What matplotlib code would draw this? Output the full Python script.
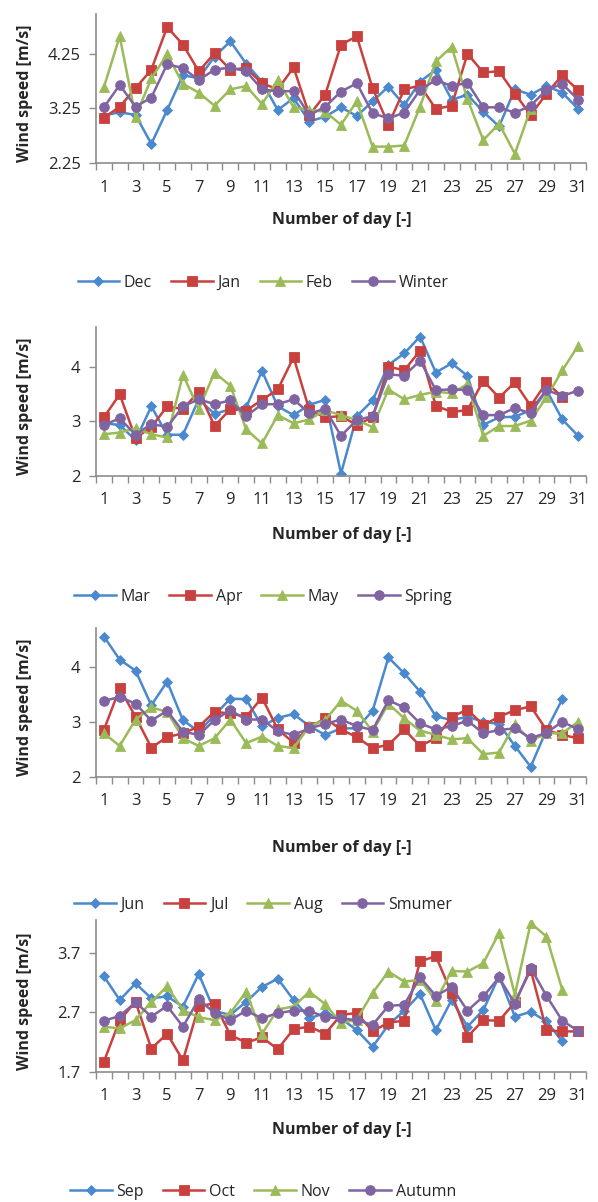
import matplotlib
matplotlib.use('Agg')
import matplotlib.pyplot as plt

plt.rcParams['font.family'] = ['Open Sans', 'DejaVu Sans']

# ---------------- data ----------------
days = list(range(1, 32))
tick_days = list(range(1, 32, 2))

# Winter
dec = [3.12, 3.18, 3.13, 2.60, 3.22, 3.86, 3.80, 4.20, 4.48, 4.07, 3.74, 3.22, 3.44, 3.01, 3.10,
       3.27, 3.11, 3.38, 3.65, 3.31, 3.74, 3.96, 3.41, 3.50, 3.19, 2.92, 3.60, 3.50, 3.66, 3.54, 3.24]
jan = [3.08, 3.28, 3.62, 3.96, 4.74, 4.42, 3.93, 4.26, 3.96, 3.99, 3.71, 3.60, 4.00, 3.13, 3.50,
       4.42, 4.57, 3.62, 2.95, 3.60, 3.67, 3.24, 3.30, 4.25, 3.91, 3.93, 3.52, 3.13, 3.52, 3.86, 3.58]
feb = [3.64, 4.57, 3.10, 3.80, 4.24, 3.70, 3.54, 3.30, 3.60, 3.66, 3.33, 3.77, 3.27, 3.22, 3.19,
       2.95, 3.38, 2.55, 2.55, 2.57, 3.28, 4.11, 4.38, 3.42, 2.67, 2.97, 2.42, 3.24]
winter = [3.27, 3.68, 3.28, 3.45, 4.06, 3.99, 3.77, 3.96, 4.00, 3.93, 3.60, 3.56, 3.57, 3.13, 3.28,
          3.56, 3.71, 3.16, 3.07, 3.17, 3.59, 3.77, 3.66, 3.72, 3.27, 3.27, 3.17, 3.30, 3.59, 3.70, 3.41]

# Spring
mar = [2.96, 2.93, 2.65, 3.27, 2.75, 2.75, 3.40, 3.13, 3.22, 3.25, 3.92, 3.27, 3.11, 3.30, 3.39,
       2.04, 3.09, 3.38, 4.03, 4.24, 4.55, 3.89, 4.06, 3.83, 2.93, 3.07, 3.08, 3.20, 3.57, 3.03, 2.73]
apr = [3.07, 3.49, 2.69, 2.89, 3.27, 3.22, 3.54, 2.91, 3.22, 3.19, 3.39, 3.58, 4.17, 3.20, 3.07,
       3.09, 2.93, 3.07, 4.00, 3.93, 4.29, 3.28, 3.17, 3.20, 3.74, 3.43, 3.71, 3.28, 3.71, 3.44]
may = [2.76, 2.79, 2.87, 2.76, 2.70, 3.85, 3.22, 3.89, 3.65, 2.85, 2.59, 3.11, 2.96, 3.03, 3.20,
       3.11, 3.02, 2.89, 3.58, 3.40, 3.48, 3.54, 3.51, 3.68, 2.73, 2.91, 2.91, 3.01, 3.44, 3.93, 4.38]
spring = [2.93, 3.05, 2.75, 2.95, 2.89, 3.27, 3.40, 3.31, 3.38, 3.09, 3.31, 3.31, 3.40, 3.14, 3.22,
          2.73, 3.02, 3.09, 3.86, 3.83, 4.11, 3.57, 3.58, 3.57, 3.11, 3.11, 3.24, 3.14, 3.57, 3.46, 3.56]

# Summer
jun = [4.55, 4.13, 3.93, 3.30, 3.73, 3.03, 2.82, 3.12, 3.42, 3.41, 2.92, 3.07, 3.14, 2.92, 2.76,
       2.88, 2.88, 3.20, 4.17, 3.88, 3.55, 3.10, 3.03, 3.09, 3.00, 2.96, 2.56, 2.18, 2.85, 3.41]
jul = [2.85, 3.61, 3.09, 2.53, 2.72, 2.79, 2.91, 3.18, 3.15, 3.09, 3.44, 2.86, 2.62, 2.90, 3.06,
       2.86, 2.72, 2.52, 2.58, 2.86, 2.56, 2.70, 3.09, 3.22, 2.94, 3.09, 3.21, 3.28, 2.85, 2.76, 2.70]
aug = [2.79, 2.56, 3.04, 3.26, 3.18, 2.70, 2.56, 2.70, 3.04, 2.61, 2.73, 2.56, 2.52, 2.92, 3.03,
       3.38, 3.20, 2.82, 3.33, 3.06, 2.84, 2.76, 2.68, 2.70, 2.41, 2.44, 2.96, 2.65, 2.79, 2.79, 3.00]
summer = [3.38, 3.45, 3.33, 3.02, 3.20, 2.82, 2.76, 3.03, 3.21, 3.04, 3.04, 2.83, 2.76, 2.88, 2.96,
          3.04, 2.92, 2.85, 3.39, 3.26, 2.97, 2.86, 2.92, 3.02, 2.79, 2.85, 2.88, 2.70, 2.80, 3.00, 2.86]

# Autumn
sep = [3.31, 2.91, 3.19, 2.94, 2.97, 2.80, 3.35, 2.72, 2.66, 2.88, 3.13, 3.27, 2.91, 2.60, 2.69,
       2.60, 2.40, 2.12, 2.49, 2.73, 3.01, 2.40, 2.91, 2.46, 2.74, 3.31, 2.63, 2.71, 2.55, 2.21]
oct_ = [1.87, 2.57, 2.88, 2.09, 2.34, 1.89, 2.81, 2.85, 2.32, 2.19, 2.28, 2.08, 2.42, 2.46, 2.34,
        2.66, 2.69, 2.38, 2.53, 2.56, 3.56, 3.65, 3.02, 2.29, 2.57, 2.56, 2.87, 3.42, 2.40, 2.38, 2.38]
nov = [2.46, 2.43, 2.57, 2.88, 3.14, 2.74, 2.62, 2.57, 2.69, 3.05, 2.34, 2.75, 2.80, 3.05, 2.84,
       2.52, 2.58, 3.03, 3.39, 3.22, 3.25, 2.90, 3.40, 3.39, 3.53, 4.04, 3.00, 4.21, 3.98, 3.08]
autumn = [2.56, 2.64, 2.87, 2.63, 2.81, 2.46, 2.92, 2.69, 2.57, 2.73, 2.60, 2.69, 2.73, 2.73, 2.62,
          2.60, 2.57, 2.49, 2.81, 2.83, 3.29, 2.98, 3.13, 2.73, 2.97, 3.29, 2.85, 3.45, 2.98, 2.56, 2.39]

panel_names = [["Dec", "Jan", "Feb", "Winter"],
               ["Mar", "Apr", "May", "Spring"],
               ["Jun", "Jul", "Aug", "Smumer"],
               ["Sep", "Oct", "Nov", "Autumn"]]
panel_data = [[dec, jan, feb, winter],
              [mar, apr, may, spring],
              [jun, jul, aug, summer],
              [sep, oct_, nov, autumn]]
panel_yticks = [[2.25, 3.25, 4.25], [2, 3, 4], [2, 3, 4], [1.7, 2.7, 3.7]]
panel_yticklabels = [["2.25", "3.25", "4.25"], ["2", "3", "4"], ["2", "3", "4"], ["1.7", "2.7", "3.7"]]
panel_ylim = [(2.25, 4.98), (2.0, 4.73), (2.0, 4.70), (1.7, 4.26)]

# ---------------- style / layout ----------------
W, H = 598, 1202
colors = ['#4A89CE', '#C9413E', '#9BBB59', '#8064A2']
markers = ['D', 's', '^', 'o']
msizes = [5.2, 6.5, 7.0, 7.0]
axis_col = '#8C8C8C'
text_col = '#262626'

# pixel geometry of each panel: (top, bottom) of plot area
panel_px = [(14, 163), (326.7, 475.7), (628.3, 776.7), (920, 1071.7)]
xlabel_y = [220, 535, 848, 1130]
legend_y = [283, 597, 905, 1192]
left_px, right_px = 96, 586

fig = plt.figure(figsize=(W / 100, H / 100), dpi=100)

for i in range(4):
    top, bot = panel_px[i]
    ax = fig.add_axes([left_px / W, 1 - bot / H, (right_px - left_px) / W, (bot - top) / H])
    for j in range(4):
        vals = panel_data[i][j]
        ax.plot(days[:len(vals)], vals, color=colors[j], marker=markers[j],
                markersize=msizes[j], linewidth=1.8, label=panel_names[i][j],
                markeredgewidth=0.6, markeredgecolor=colors[j])
    ax.set_xlim(0.5, 31.5)
    ax.set_ylim(*panel_ylim[i])
    ax.set_yticks(panel_yticks[i])
    ax.set_yticklabels(panel_yticklabels[i])
    ax.set_xticks([d + 0.5 for d in range(0, 32)])
    ax.set_xticklabels([])
    ax.set_xticks(tick_days, minor=True)
    ax.set_xticklabels([str(d) for d in tick_days], minor=True)
    ax.tick_params(axis='x', which='major', direction='out', length=5, width=1, color=axis_col)
    ax.tick_params(axis='x', which='minor', length=0, pad=12, labelsize=12, labelcolor=text_col)
    ax.tick_params(axis='y', direction='out', length=5, width=1, color=axis_col,
                   pad=6, labelsize=12, labelcolor=text_col)
    for s in ['top', 'right']:
        ax.spines[s].set_visible(False)
    for s in ['left', 'bottom']:
        ax.spines[s].set_color(axis_col)
        ax.spines[s].set_linewidth(1.2)
    fig.text(25 / W, 1 - ((top + bot) / 2 + 5) / H, "Wind speed [m/s]", rotation=90,
             ha='center', va='center', fontsize=11.5, fontweight='bold', color=text_col)
    fig.text(342 / W, 1 - xlabel_y[i] / H, "Number of day [-]", ha='center', va='center',
             fontsize=11.5, fontweight='bold', color=text_col)
    handles, labels = ax.get_legend_handles_labels()
    fig.legend(handles, labels, loc='center', bbox_to_anchor=(263 / W, 1 - legend_y[i] / H),
               ncol=4, frameon=False, fontsize=11.5, handlelength=2.6, handletextpad=0.3,
               columnspacing=1.2, labelcolor=text_col)

fig.savefig('out.png', dpi=100)
